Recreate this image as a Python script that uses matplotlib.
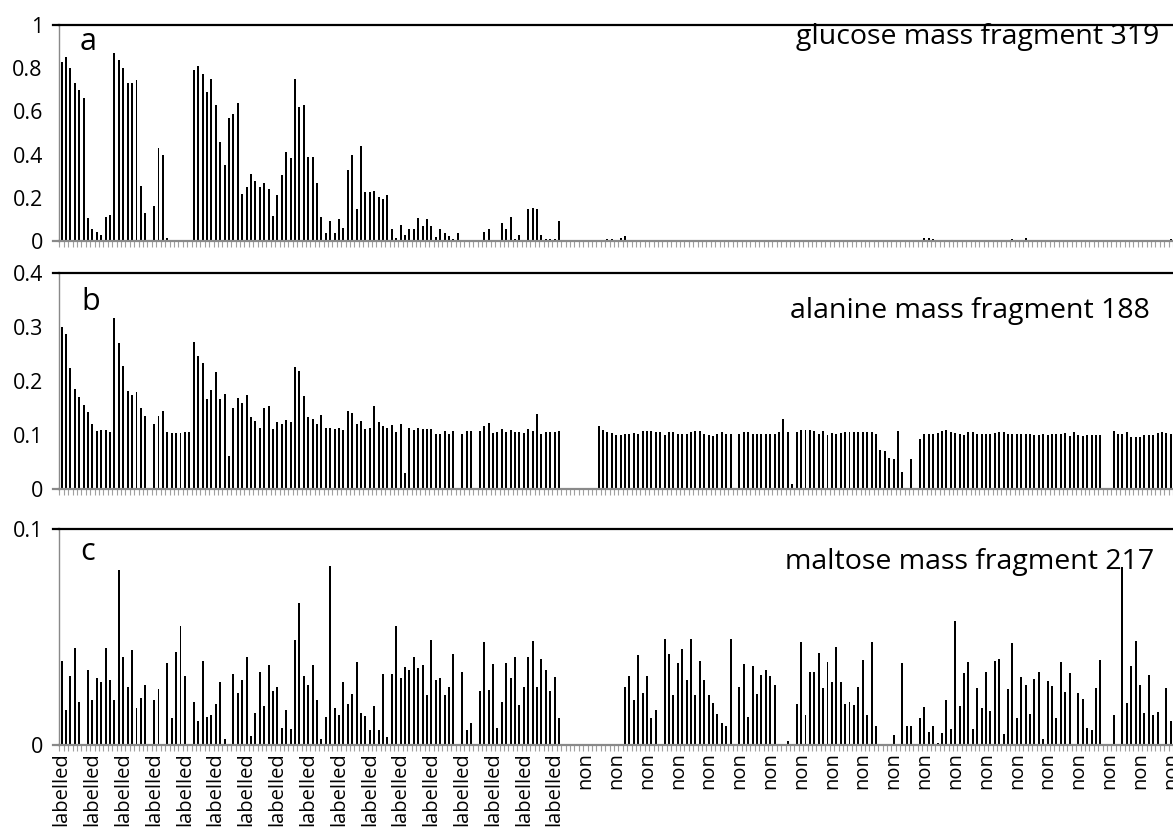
import numpy as np
import matplotlib.pyplot as plt

# fraction of each fragment, one value per sample (253 samples, 0 = no bar)
glucose_319 = [
    0.83, 0.85, 0.80, 0.73, 0.70, 0.66, 0.105, 0.055, 0.04, 0.03,
    0.11, 0.12, 0.87, 0.84, 0.80, 0.73, 0.73, 0.745, 0.255, 0.13,
    0, 0.16, 0.43, 0.40, 0.012, 0.002, 0.005, 0.002, 0.005, 0.005,
    0.79, 0.81, 0.775, 0.69, 0.75, 0.63, 0.46, 0.35, 0.57, 0.59,
    0.64, 0.22, 0.25, 0.31, 0.28, 0.25, 0.27, 0.24, 0.115, 0.215,
    0.305, 0.41, 0.385, 0.75, 0.62, 0.63, 0.39, 0.39, 0.27, 0.11,
    0.035, 0.095, 0.035, 0.10, 0.06, 0.33, 0.40, 0.15, 0.44, 0.225,
    0.225, 0.23, 0.205, 0.195, 0.215, 0.057, 0.014, 0.072, 0.03, 0.054,
    0.055, 0.105, 0.07, 0.103, 0.068, 0.018, 0.054, 0.038, 0.022, 0.01,
    0.035, 0.005, 0.005, 0.002, 0, 0.004, 0.04, 0.054, 0.004, 0.006,
    0.085, 0.054, 0.11, 0.01, 0.028, 0.005, 0.15, 0.155, 0.15, 0.03,
    0.01, 0.01, 0.01, 0.095, 0, 0.004, 0, 0, 0, 0,
    0.004, 0, 0.002, 0.002, 0.01, 0.008, 0.006, 0.012, 0.022, 0.004,
    0.002, 0.002, 0.002, 0.002, 0.002, 0.002, 0.002, 0.002, 0.002, 0.002,
    0.002, 0.002, 0.002, 0.002, 0.002, 0.004, 0.002, 0.002, 0.002, 0.002,
    0.002, 0.002, 0.002, 0, 0.002, 0.002, 0.002, 0.002, 0.002, 0.002,
    0.002, 0.002, 0.002, 0.002, 0.005, 0.002, 0.006, 0.002, 0.002, 0.002,
    0.002, 0.002, 0.002, 0.002, 0.002, 0.002, 0.002, 0.002, 0.002, 0.002,
    0.002, 0.002, 0.005, 0.002, 0.002, 0.002, 0.002, 0.002, 0.002, 0.002,
    0.002, 0.002, 0.002, 0.002, 0, 0.002, 0.016, 0.012, 0.008, 0.002,
    0.002, 0.006, 0.002, 0.002, 0.002, 0.002, 0.002, 0.002, 0.002, 0.002,
    0.002, 0.002, 0.005, 0.002, 0.002, 0.002, 0.01, 0.002, 0.002, 0.012,
    0.002, 0.002, 0.007, 0.002, 0.002, 0.002, 0.002, 0.002, 0.002, 0.002,
    0.002, 0.002, 0.002, 0.002, 0.002, 0.002, 0.002, 0, 0, 0.007,
    0.002, 0.002, 0.002, 0.002, 0.002, 0.002, 0.002, 0.002, 0.002, 0.002,
    0.002, 0.002, 0.01,
]

alanine_188 = [
    0.299, 0.286, 0.224, 0.185, 0.170, 0.155, 0.143, 0.120, 0.108, 0.109,
    0.110, 0.106, 0.316, 0.271, 0.227, 0.182, 0.175, 0.179, 0.150, 0.135,
    0, 0.121, 0.135, 0.145, 0.106, 0.104, 0.104, 0.104, 0.105, 0.106,
    0.272, 0.246, 0.234, 0.166, 0.183, 0.217, 0.166, 0.176, 0.062, 0.151,
    0.168, 0.159, 0.174, 0.134, 0.126, 0.114, 0.151, 0.154, 0.111, 0.124,
    0.121, 0.128, 0.124, 0.226, 0.218, 0.172, 0.133, 0.130, 0.121, 0.137,
    0.114, 0.113, 0.111, 0.113, 0.109, 0.145, 0.141, 0.121, 0.126, 0.111,
    0.113, 0.154, 0.124, 0.117, 0.114, 0.119, 0.106, 0.121, 0.030, 0.113,
    0.110, 0.113, 0.111, 0.111, 0.111, 0.103, 0.102, 0.108, 0.103, 0.108,
    0, 0.102, 0.107, 0.108, 0, 0.108, 0.116, 0.123, 0.104, 0.106,
    0.111, 0.106, 0.110, 0.106, 0.105, 0.104, 0.112, 0.107, 0.139, 0.103,
    0.105, 0.106, 0.105, 0.107, 0, 0, 0, 0, 0, 0,
    0, 0, 0.116, 0.110, 0.106, 0.104, 0.100, 0.101, 0.103, 0.102,
    0.104, 0.102, 0.107, 0.107, 0.107, 0.106, 0.106, 0.100, 0.105, 0.105,
    0.102, 0.103, 0.103, 0.106, 0.107, 0.107, 0.103, 0.101, 0.099, 0.103,
    0.105, 0.103, 0.102, 0, 0.102, 0.105, 0.105, 0.103, 0.103, 0.103,
    0.103, 0.103, 0.103, 0.105, 0.130, 0.105, 0.009, 0.106, 0.110, 0.110,
    0.110, 0.107, 0.103, 0.107, 0.101, 0.104, 0.103, 0.104, 0.105, 0.105,
    0.105, 0.105, 0.105, 0.105, 0.106, 0.103, 0.072, 0.070, 0.058, 0.055,
    0.108, 0.031, 0.003, 0.055, 0, 0.092, 0.103, 0.103, 0.102, 0.104,
    0.108, 0.109, 0.105, 0.104, 0.103, 0.100, 0.105, 0.105, 0.103, 0.102,
    0.102, 0.103, 0.104, 0.105, 0.105, 0.102, 0.102, 0.102, 0.103, 0.103,
    0.103, 0.101, 0.100, 0.102, 0.101, 0.103, 0.103, 0.102, 0.104, 0.098,
    0.106, 0.101, 0.099, 0.100, 0.100, 0.101, 0.101, 0, 0, 0.108,
    0.103, 0.103, 0.105, 0.097, 0.097, 0.097, 0.100, 0.101, 0.101, 0.104,
    0.106, 0.104, 0.103,
]

maltose_217 = [
    0.039, 0.016, 0.032, 0.045, 0.020, 0, 0.035, 0.021, 0.031, 0.029,
    0.045, 0.030, 0.021, 0.081, 0.041, 0.027, 0.044, 0.017, 0.022, 0.028,
    0, 0.021, 0.026, 0, 0.038, 0.0125, 0.043, 0.055, 0.032, 0,
    0.020, 0.011, 0.039, 0.013, 0.014, 0.019, 0.029, 0.003, 0, 0.033,
    0.024, 0.030, 0.041, 0.004, 0.015, 0.034, 0.018, 0.037, 0.025, 0.027,
    0.008, 0.016, 0.0075, 0.0485, 0.066, 0.032, 0.028, 0.037, 0.021, 0.003,
    0.013, 0.083, 0.017, 0.014, 0.029, 0.019, 0.0235, 0.0385, 0.015, 0.0136,
    0.007, 0.018, 0.007, 0.033, 0.0035, 0.033, 0.055, 0.031, 0.036, 0.0346,
    0.041, 0.0355, 0.037, 0.023, 0.0487, 0.030, 0.031, 0.023, 0.027, 0.042,
    0, 0.034, 0.007, 0.010, 0, 0.025, 0.0476, 0.0255, 0.0376, 0.008,
    0.020, 0.038, 0.031, 0.041, 0.0185, 0.027, 0.041, 0.048, 0.027, 0.040,
    0.035, 0.025, 0.0315, 0.0127, 0, 0, 0, 0, 0, 0,
    0, 0, 0, 0, 0, 0, 0, 0, 0.027, 0.032,
    0.021, 0.0416, 0.024, 0.032, 0.0124, 0.016, 0.0006, 0.049, 0.042, 0.023,
    0.038, 0.0447, 0.030, 0.049, 0.023, 0.039, 0.030, 0.023, 0.0195, 0.0144,
    0.0104, 0.009, 0.049, 0, 0.027, 0.0376, 0.013, 0.0366, 0.0238, 0.0325,
    0.035, 0.032, 0.0277, 0, 0, 0.002, 0, 0.019, 0.0478, 0.014,
    0.034, 0.034, 0.0427, 0.0266, 0.0386, 0.029, 0.0454, 0.029, 0.019, 0.020,
    0.0185, 0.0267, 0.0396, 0.014, 0.0478, 0.009, 0, 0, 0, 0.0046,
    0, 0.038, 0.0087, 0.009, 0, 0.0125, 0.0176, 0.006, 0.0088, 0.0008,
    0.0057, 0.0207, 0.0073, 0.0575, 0.018, 0.0335, 0.0385, 0.0073, 0.0266, 0.0173,
    0.0338, 0.0158, 0.039, 0.040, 0.0053, 0.0258, 0.0473, 0.0125, 0.0315, 0.0278,
    0.0142, 0.0304, 0.034, 0.0026, 0.0297, 0.0275, 0.0125, 0.0386, 0.0247, 0.0334,
    0, 0.0241, 0.0215, 0.0079, 0.007, 0.0264, 0.0396, 0, 0, 0.014,
    0, 0.0827, 0.0193, 0.0368, 0.048, 0.0278, 0.015, 0.0325, 0.0138, 0.0155,
    0, 0.0266, 0.0113,
]

# category labels shown under every 7th sample
tick_labels = ['labelled'] * 17 + ['non'] * 20
label_step = 7

panel_letters = ['a', 'b', 'c']
panel_titles = ['glucose mass fragment 319', 'alanine mass fragment 188', 'maltose mass fragment 217']
y_ticks = [[0, 0.2, 0.4, 0.6, 0.8, 1], [0, 0.1, 0.2, 0.3, 0.4], [0, 0.1]]
y_tick_text = [['0', '0.2', '0.4', '0.6', '0.8', '1'], ['0', '0.1', '0.2', '0.3', '0.4'], ['0', '0.1']]

plt.rcParams['font.family'] = ['Open Sans', 'DejaVu Sans']

fig = plt.figure(figsize=(11.73, 8.30), dpi=100)

rects = [[0.0507, 0.7096, 0.9493, 0.2602],
         [0.0507, 0.4105, 0.9493, 0.2610],
         [0.0507, 0.1024, 0.9493, 0.2599]]
letter_pos = [(0.018, 0.885), (0.020, 0.828), (0.019, 0.858)]
title_pos = [(0.988, 0.912), (0.979, 0.789), (0.983, 0.816)]

series = [glucose_319, alanine_188, maltose_217]
grey = '#898989'

for k in range(3):
    vals = series[k]
    ax = fig.add_axes(rects[k])
    x = np.arange(len(vals))
    ax.bar(x, vals, width=0.45, color='black', linewidth=0)
    ax.set_xlim(-0.5, len(vals) - 0.5)
    ax.set_ylim(0, y_ticks[k][-1])

    ax.spines['right'].set_visible(False)
    ax.spines['top'].set_color('black')
    ax.spines['top'].set_linewidth(1.6)
    ax.spines['left'].set_color(grey)
    ax.spines['left'].set_linewidth(1.0)
    ax.spines['bottom'].set_color(grey)
    ax.spines['bottom'].set_linewidth(1.6)

    ax.set_yticks(y_ticks[k])
    ax.set_yticklabels(y_tick_text[k])
    ax.tick_params(axis='y', length=0, pad=12, labelsize=15.5)
    # short stubs of the top and bottom lines left of the axis
    ax.plot([-0.006, 0], [y_ticks[k][-1]] * 2, color='black', lw=1.6,
            transform=ax.get_yaxis_transform(), clip_on=False)
    ax.plot([-0.006, 0], [0, 0], color=grey, lw=1.6,
            transform=ax.get_yaxis_transform(), clip_on=False)

    ax.set_xticks(np.arange(0, len(vals), label_step))
    ax.set_xticks(np.arange(-0.5, len(vals), 1), minor=True)
    ax.tick_params(axis='x', which='major', length=0)
    ax.tick_params(axis='x', which='minor', length=4.5, width=0.8, color='#a0a0a0')
    if k == 2:
        ax.set_xticklabels(tick_labels, rotation=90, fontsize=14.5)
        ax.tick_params(axis='x', which='major', pad=5)
    else:
        ax.set_xticklabels([])

    ax.text(letter_pos[k][0], letter_pos[k][1], panel_letters[k], transform=ax.transAxes,
            fontsize=22, va='baseline', ha='left')
    ax.text(title_pos[k][0], title_pos[k][1], panel_titles[k], transform=ax.transAxes,
            fontsize=20.5, va='baseline', ha='right')

fig.savefig('out.png', dpi=100)
